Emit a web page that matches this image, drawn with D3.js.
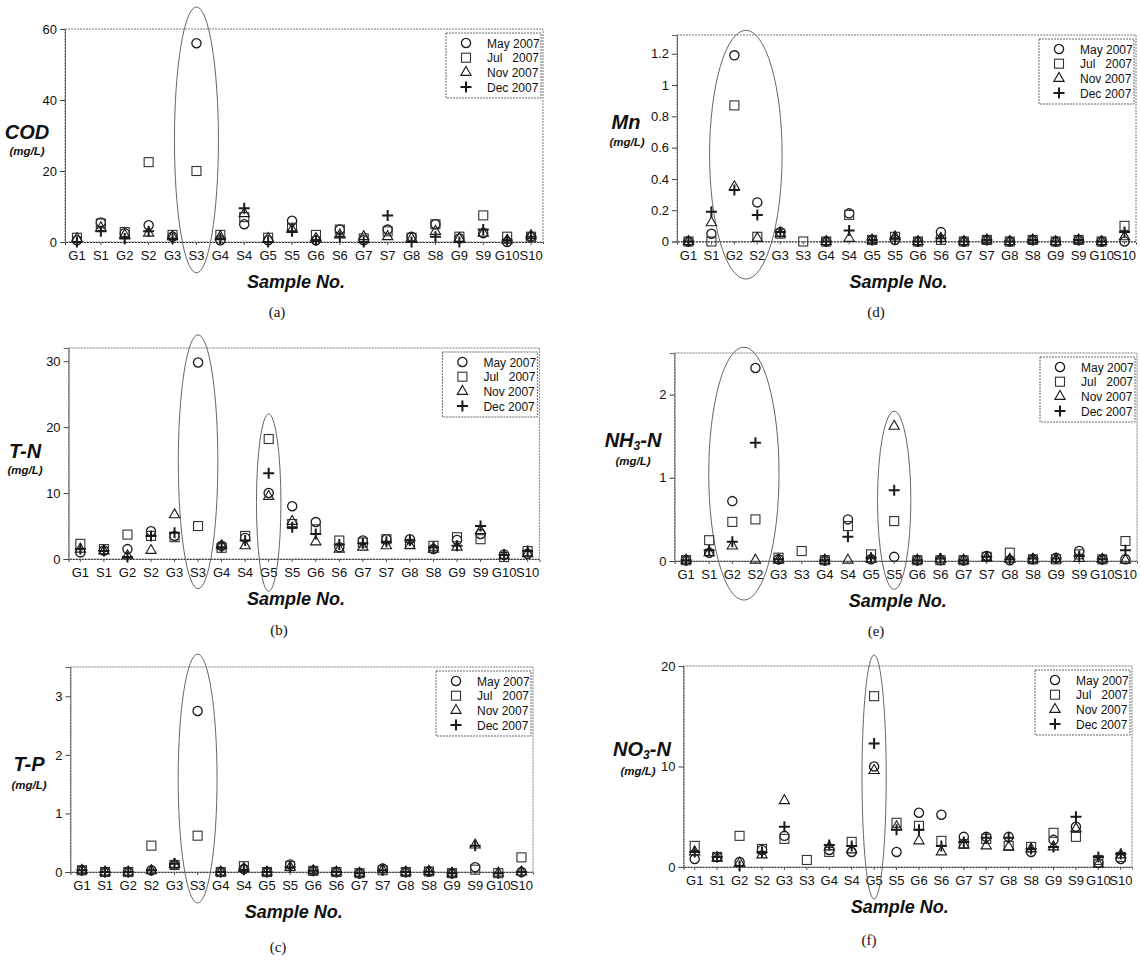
<!DOCTYPE html>
<html>
<head>
<meta charset="utf-8">
<script src="https://cdn.jsdelivr.net/npm/d3@7"></script>
<style>
  body { margin: 0; background: #fff; }
  text { font-family: "Liberation Sans", Arial, sans-serif; fill: #111; }
</style>
</head>
<body>
<svg id="chart" width="1140" height="960"></svg>
<script>
// sample sites and survey months
const samples = ["G1","S1","G2","S2","G3","S3","G4","S4","G5","S5","G6","S6","G7","S7","G8","S8","G9","S9","G10","S10"];
const seriesNames = ["May 2007", "Jul   2007", "Nov 2007", "Dec 2007"];

// COD (mg/L)
const codMay = [0.5, 5.5, 2.5, 4.7, 1.5, 56, 0.5, 5, 0.5, 6, 0.5, 3.5, 0.5, 3.5, 1.5, 5, 1, 2.5, 0, 1.5];
const codJul = [1.2, 5.2, 2.8, 22.5, 2, 20, 2, 7, 1.2, 4, 2, 3.5, 1, 3, 1.2, 5, 1.5, 7.5, 1.5, 1.5];
const codNov = [1, 4, 2, 2.5, 1.5, null, 1.5, 8, 1, 3.5, 1, 2, 1.5, 1.5, 1, 3, 1, 2.5, 0.5, 1.8];
const codDec = [0, 3, 1, 3, 1, null, 1, 9.5, 0, 3, 0.5, 1.5, 0, 7.5, 0, 1.5, 0, 3.5, 0.5, 1.5];

// T-N (mg/L)
const tnMay = [1, 1.3, 1.5, 4.2, 3.5, 29.8, 2, 3.2, 10, 8, 5.6, 1.8, 2.8, 3, 3, 1.5, 2.9, 3.8, 0.7, 0.8];
const tnJul = [2.3, 1.5, 3.7, 3.5, 3.3, 5, 1.7, 3.5, 18.2, 5.3, 4.5, 2.8, 2.5, 3, 2.3, 2, 3.3, 3, 0.3, 1.2];
const tnNov = [1.5, 1.2, 0.5, 1.3, 6.7, null, 2, 2, 9.5, 5.7, 2.6, 1.5, 1.8, 2, 2, 1.5, 1.8, 4.3, 0.5, 0.8];
const tnDec = [1.5, 1.2, 0.3, 3.5, 4, null, 1.8, 2.8, 13, 4.8, 3.8, 2.2, 2.4, 2.6, 2.8, 1.8, 2, 5, 0.6, 1.2];

// T-P (mg/L)
const tpMay = [0.03, 0, 0, 0.03, 0.12, 2.75, 0, 0.05, 0, 0.13, 0.02, 0, -0.02, 0.06, 0, 0.01, -0.02, 0.08, null, 0];
const tpJul = [0.03, 0, 0, 0.45, 0.12, 0.62, 0, 0.1, 0, 0.1, 0.02, 0, -0.02, 0.03, 0, 0.01, -0.02, 0.04, -0.02, 0.25];
const tpNov = [0.03, 0, 0, 0.02, 0.13, null, 0, 0.06, 0, 0.08, 0.02, 0, -0.02, 0.04, 0, 0.01, -0.02, 0.46, -0.02, 0];
const tpDec = [0.03, 0, 0, 0.03, 0.14, null, 0, 0.04, 0, 0.08, 0.02, 0, -0.02, 0.03, 0, 0.01, -0.02, 0.45, -0.02, 0];

// Mn (mg/L)
const mnMay = [0, 0.05, 1.19, 0.25, 0.06, null, 0, 0.18, 0.01, 0.01, 0, 0.06, 0, 0.01, 0, 0.01, 0, 0.01, 0, 0];
const mnJul = [0, 0, 0.87, 0.03, 0.05, 0, 0, 0.17, 0.01, 0.03, 0, 0.01, 0, 0.01, 0, 0.01, 0, 0.01, 0, 0.1];
const mnNov = [0, 0.12, 0.35, 0.02, 0.05, null, 0, 0.02, 0.01, 0.03, 0, 0.02, 0, 0.01, 0, 0.01, 0, 0.01, 0, 0.03];
const mnDec = [0, 0.19, 0.33, 0.17, 0.06, null, 0, 0.07, 0.01, 0.02, 0, 0.02, 0, 0.01, 0, 0.01, 0, 0.01, 0, 0.06];

// NH3-N (mg/L)
const nh3May = [0.01, 0.1, 0.72, 2.32, 0.02, null, 0.01, 0.5, 0.02, 0.05, 0.01, 0.01, 0.01, 0.06, 0.01, 0.02, 0.04, 0.12, 0.02, 0.02];
const nh3Jul = [0.01, 0.25, 0.47, 0.5, 0.04, 0.12, 0.01, 0.42, 0.08, 0.48, 0.01, 0.01, 0.01, 0.05, 0.1, 0.02, 0.02, 0.08, 0.02, 0.24];
const nh3Nov = [0.01, 0.1, 0.18, 0.01, 0.01, null, 0.01, 0.01, 0.02, 1.62, 0.01, 0.02, 0.01, 0.04, 0.02, 0.02, 0.02, 0.03, 0.02, 0.01];
const nh3Dec = [0.01, 0.13, 0.23, 1.42, 0.02, null, 0.01, 0.29, 0.04, 0.85, 0.01, 0.03, 0.01, 0.05, 0.02, 0.03, 0.03, 0.06, 0.02, 0.13];

// NO3-N (mg/L)
const no3May = [0.8, 1, 0.5, 1.7, 3.1, null, 1.7, 1.5, 10, 1.5, 5.4, 5.2, 3, 3, 3, 1.5, 2.7, 4, 0.4, 0.8];
const no3Jul = [2.1, 1, 3.1, 1.8, 2.8, 0.7, 1.5, 2.5, 17, 4.4, 4.1, 2.6, 2.3, 2.8, 2.1, 2, 3.4, 3, 0.7, 1];
const no3Nov = [1.5, 0.9, 0.4, 1.2, 6.6, null, 2, 1.7, 9.6, 4, 2.6, 1.5, 2.2, 2.1, 2, 1.8, 2, 3.8, 0.3, 1.2];
const no3Dec = [1.5, 1, 0.1, 1.5, 4, null, 2.2, 2.1, 12.3, 3.7, 3.7, 2.1, 2.5, 2.9, 2.9, 1.8, 2, 5, 1, 1.3];

// y axis ticks
const codTicks = [0, 20, 40, 60];
const tnTicks = [0, 10, 20, 30];
const tpTicks = [0, 1, 2, 3];
const mnTicks = [0, 0.2, 0.4, 0.6, 0.8, 1, 1.2];
const nh3Ticks = [0, 1, 2];
const no3Ticks = [0, 10, 20];

// panel layout: plot box [left, top, right, bottom], label [x, title y, unit y, unit x]
var panels = [
  { letter: "(a)", name: "COD", sub: null, tail: "", series: [codMay, codJul, codNov, codDec], yMax: 60, ticks: codTicks,
    box: [65, 29, 543, 242], label: [27, 139, 155, 27], letterAt: [277, 317],
    rings: [{ from: "S3", to: "S3", lo: -8.7, hi: 66.2, rx: 0.92 }] },
  { letter: "(b)", name: "T-N", sub: null, tail: "", series: [tnMay, tnJul, tnNov, tnDec], yMax: 32, ticks: tnTicks,
    box: [68.6, 348, 539.4, 559], label: [25, 458, 474, 25], letterAt: [279, 635],
    rings: [{ from: "S3", to: "S3", lo: -4.5, hi: 34, rx: 0.84 }, { from: "G5", to: "G5", lo: -4.9, hi: 22, rx: 0.52 }] },
  { letter: "(c)", name: "T-P", sub: null, tail: "", series: [tpMay, tpJul, tpNov, tpDec], yMax: 3.5, ticks: tpTicks,
    box: [70.4, 667, 533, 872], label: [29, 771, 789, 29], letterAt: [278, 952],
    rings: [{ from: "S3", to: "S3", lo: -0.53, hi: 3.72, rx: 0.84 }] },
  { letter: "(d)", name: "Mn", sub: null, tail: "", series: [mnMay, mnJul, mnNov, mnDec], yMax: 1.32, ticks: mnTicks,
    box: [677, 35, 1136, 241.5], label: [626, 129, 146, 627], letterAt: [876, 317],
    rings: [{ from: "G2", to: "S2", lo: -0.24, hi: 1.35, rx: 1.58 }] },
  { letter: "(e)", name: "NH", sub: "3", tail: "-N", series: [nh3May, nh3Jul, nh3Nov, nh3Dec], yMax: 2.5, ticks: nh3Ticks,
    box: [674.5, 353, 1137, 561], label: [633, 447, 465, 633], letterAt: [876, 636],
    rings: [{ from: "G2", to: "S2", lo: -0.47, hi: 2.57, rx: 1.52 }, { from: "S5", to: "S5", lo: -0.34, hi: 1.8, rx: 0.72 }] },
  { letter: "(f)", name: "NO", sub: "3", tail: "-N", series: [no3May, no3Jul, no3Nov, no3Dec], yMax: 20, ticks: no3Ticks,
    box: [683.5, 666, 1132, 867], label: [642, 756, 775, 638], letterAt: [869, 945],
    rings: [{ from: "G5", to: "G5", lo: -3.2, hi: 21.1, rx: 0.54 }] }
];

var svg = d3.select("#chart");
var ink = "#1a1a1a";

var markers = [
  function (g) { g.append("circle").attr("r", 4.6).attr("fill", "none").attr("stroke", ink).attr("stroke-width", 1.3); },
  function (g) { g.append("rect").attr("x", -4.5).attr("y", -4.5).attr("width", 9).attr("height", 9)
                   .attr("fill", "none").attr("stroke", "#333").attr("stroke-width", 1.1); },
  function (g) { g.append("path").attr("d", d3.symbol().type(d3.symbolTriangle).size(46)())
                   .attr("fill", "none").attr("stroke", ink).attr("stroke-width", 1.1); },
  function (g) { g.append("path").attr("d", "M-5.5,0H5.5M0,-5.5V5.5").attr("fill", "none")
                   .attr("stroke", ink).attr("stroke-width", 2); }
];

panels.forEach(function (p) {
  var left = p.box[0], top = p.box[1], right = p.box[2], bottom = p.box[3];

  var x = d3.scaleBand().domain(samples).range([left, right]).padding(0);
  var y = d3.scaleLinear().domain([0, p.yMax]).range([bottom, top]);
  var cx = function (s) { return x(s) + x.bandwidth() / 2; };

  var g = svg.append("g");

  // frame
  g.append("rect")
    .attr("x", left).attr("y", top)
    .attr("width", right - left).attr("height", bottom - top)
    .attr("fill", "none").attr("stroke", "#7a7a7a").attr("stroke-width", 1)
    .attr("stroke-dasharray", "2,1");

  // y axis
  var yAxis = g.append("g")
    .attr("transform", "translate(" + left + ",0)")
    .call(d3.axisLeft(y).tickValues(p.ticks).tickSize(5).tickPadding(3)
      .tickFormat(function (d) { return String(+d.toFixed(1)); }));
  yAxis.select(".domain").attr("stroke", "#666");
  yAxis.selectAll(".tick line").attr("stroke", "#444");
  yAxis.selectAll("text").attr("font-size", 13).style("font-family", '"Liberation Sans", Arial, sans-serif').attr("fill", ink);

  // x axis
  var xAxis = g.append("g")
    .attr("transform", "translate(0," + y(0) + ")")
    .call(d3.axisBottom(x).tickSize(3).tickPadding(6));
  xAxis.select(".domain").attr("stroke", "#333").attr("stroke-dasharray", "2,1");
  xAxis.selectAll(".tick line").attr("stroke", "#555");
  xAxis.selectAll("text").attr("font-size", 13).style("font-family", '"Liberation Sans", Arial, sans-serif').attr("fill", ink);

  // ellipses around highlighted sites
  p.rings.forEach(function (r) {
    g.append("ellipse")
      .attr("cx", (cx(r.from) + cx(r.to)) / 2)
      .attr("cy", (y(r.lo) + y(r.hi)) / 2)
      .attr("rx", r.rx * x.bandwidth())
      .attr("ry", (y(r.lo) - y(r.hi)) / 2)
      .attr("fill", "none").attr("stroke", "#666").attr("stroke-width", 1);
  });

  // points
  p.series.forEach(function (vals, si) {
    var pts = g.append("g").selectAll("g")
      .data(samples.map(function (s, i) { return { s: s, v: vals[i] }; }).filter(function (d) { return d.v !== null; }))
      .enter().append("g")
      .attr("transform", function (d) { return "translate(" + cx(d.s) + "," + y(d.v) + ")"; });
    pts.each(function () { markers[si](d3.select(this)); });
  });

  // legend
  var lw = 95, lh = 65;
  var lx = right - 2 - lw, ly = top + 4;
  var leg = g.append("g");
  leg.append("rect").attr("x", lx).attr("y", ly).attr("width", lw).attr("height", lh)
    .attr("fill", "#fff").attr("stroke", "#666").attr("stroke-dasharray", "2,1");
  seriesNames.forEach(function (n, i) {
    var row = leg.append("g").attr("transform", "translate(" + (lx + 20) + "," + (ly + 10 + i * 14.7) + ")");
    markers[i](row);
    leg.append("text")
      .attr("x", lx + 41).attr("y", ly + 10 + i * 14.7 + 4.5)
      .attr("font-size", 12)
      .style("white-space", "pre")
      .text(n);
  });

  // y title
  var t = g.append("text")
    .attr("x", p.label[0]).attr("y", p.label[1])
    .attr("text-anchor", "middle")
    .attr("font-size", 20).attr("font-weight", "bold").attr("font-style", "italic");
  t.append("tspan").text(p.name);
  if (p.sub) {
    t.append("tspan").attr("font-size", 12).attr("dy", 3).text(p.sub);
    t.append("tspan").attr("dy", -3).text(p.tail);
  }
  g.append("text")
    .attr("x", p.label[3]).attr("y", p.label[2])
    .attr("text-anchor", "middle")
    .attr("font-size", 11.5).attr("font-weight", "bold").attr("font-style", "italic")
    .text("(mg/L)");

  // x title
  g.append("text")
    .attr("x", (left + right) / 2 - 8).attr("y", bottom + 46)
    .attr("text-anchor", "middle")
    .attr("font-size", 18).attr("font-weight", "bold").attr("font-style", "italic")
    .text("Sample No.");

  // panel letter
  g.append("text")
    .attr("x", p.letterAt[0]).attr("y", p.letterAt[1])
    .attr("text-anchor", "middle")
    .attr("font-size", 15)
    .style("font-family", '"Liberation Serif", "DejaVu Serif", serif')
    .text(p.letter);
});
</script>
</body>
</html>
